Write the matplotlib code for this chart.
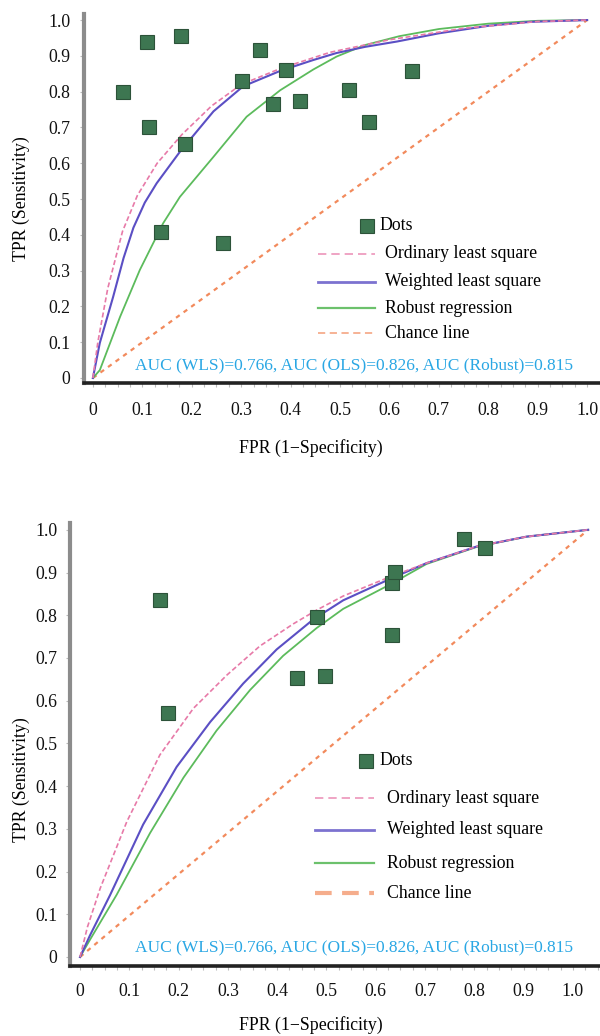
import numpy as np
import matplotlib
matplotlib.use("Agg")
import matplotlib.pyplot as plt
from matplotlib.ticker import MultipleLocator, FuncFormatter

plt.rcParams['font.family'] = ['Liberation Serif', 'DejaVu Serif']

# ---- data, upper panel ----
top_dots_fpr = [0.060, 0.109, 0.178, 0.114, 0.187, 0.137, 0.264, 0.301,
                0.338, 0.390, 0.365, 0.419, 0.518, 0.559, 0.645]
top_dots_tpr = [0.80, 0.94, 0.955, 0.70, 0.655, 0.407, 0.376, 0.83,
                0.916, 0.86, 0.765, 0.774, 0.804, 0.716, 0.857]

top_ols_fpr = [0, 0.01, 0.03, 0.06, 0.09, 0.13, 0.18, 0.24, 0.30, 0.38, 0.48, 0.60, 0.75, 0.90, 1.0]
top_ols_tpr = [0, 0.10, 0.25, 0.41, 0.51, 0.60, 0.68, 0.76, 0.82, 0.865, 0.91, 0.945, 0.977, 0.996, 1.0]

top_wls_fpr = [0, 0.014, 0.041, 0.062, 0.082, 0.105, 0.129, 0.176, 0.244, 0.304, 0.379, 0.445,
               0.493, 0.55, 0.615, 0.70, 0.80, 0.885, 1.0]
top_wls_tpr = [0, 0.098, 0.227, 0.335, 0.42, 0.49, 0.544, 0.632, 0.745, 0.815, 0.858, 0.888,
               0.908, 0.925, 0.94, 0.963, 0.984, 0.995, 1.0]

top_rob_fpr = [0, 0.014, 0.055, 0.095, 0.142, 0.176, 0.244, 0.311, 0.379, 0.446,
               0.493, 0.55, 0.62, 0.70, 0.80, 0.90, 1.0]
top_rob_tpr = [0, 0.022, 0.171, 0.302, 0.432, 0.506, 0.618, 0.73, 0.804, 0.862,
               0.898, 0.93, 0.955, 0.975, 0.99, 0.998, 1.0]

top_chance_fpr = [0, 1.0]
top_chance_tpr = [0, 1.0]

# ---- data, lower panel ----
bot_dots_fpr = [0.162, 0.179, 0.44, 0.497, 0.48, 0.632, 0.632, 0.639, 0.779, 0.822]
bot_dots_tpr = [0.836, 0.571, 0.654, 0.658, 0.797, 0.754, 0.875, 0.902, 0.979, 0.957]

bot_ols_fpr = [0, 0.015, 0.041, 0.095, 0.162, 0.23, 0.298, 0.365, 0.433, 0.48,
               0.534, 0.629, 0.703, 0.805, 0.906, 1.031]
bot_ols_tpr = [0, 0.07, 0.161, 0.317, 0.473, 0.582, 0.66, 0.728, 0.78, 0.812,
               0.845, 0.89, 0.922, 0.961, 0.984, 1.0]

bot_wls_fpr = [0, 0.02, 0.061, 0.128, 0.196, 0.264, 0.331, 0.399, 0.473,
               0.534, 0.629, 0.703, 0.805, 0.906, 1.031]
bot_wls_tpr = [0, 0.05, 0.145, 0.31, 0.445, 0.55, 0.64, 0.72, 0.79,
               0.835, 0.885, 0.922, 0.961, 0.984, 1.0]

bot_rob_fpr = [0, 0.02, 0.074, 0.142, 0.21, 0.277, 0.345, 0.412, 0.48,
               0.534, 0.629, 0.703, 0.805, 0.906, 1.031]
bot_rob_tpr = [0, 0.04, 0.145, 0.29, 0.42, 0.53, 0.625, 0.705, 0.77,
               0.815, 0.872, 0.92, 0.96, 0.984, 1.0]

bot_chance_fpr = [0, 1.031]
bot_chance_tpr = [0, 1.0]

ticks = np.round(np.arange(0, 1.01, 0.1), 1)
auc_text = "AUC (WLS)=0.766, AUC (OLS)=0.826, AUC (Robust)=0.815"
legend_names = ["Ordinary least square", "Weighted least square", "Robust regression", "Chance line"]

PINK = '#e77aa8'
BLUE = '#5b4fc4'
GREEN = '#5cbb5c'
ORANGE = '#f28a5c'
DOT = '#3d7651'
DOT_EDGE = '#2c5239'
AUC_COL = '#2aa7e4'
FS = 12.8


def style_axes(ax, xlim, ylim, ypad, xpad):
    ax.set_xlim(*xlim)
    ax.set_ylim(*ylim)
    for s in ['top', 'right']:
        ax.spines[s].set_visible(False)
    ax.spines['left'].set_color('#8c8c8c')
    ax.spines['left'].set_linewidth(3)
    ax.spines['bottom'].set_color('#222222')
    ax.spines['bottom'].set_linewidth(2.6)
    ax.set_xticks(ticks)
    ax.set_yticks(ticks)
    ax.xaxis.set_minor_locator(MultipleLocator(0.025))
    fmt = FuncFormatter(lambda v, p: '0' if abs(v) < 1e-9 else f'{v:.1f}')
    ax.xaxis.set_major_formatter(fmt)
    ax.yaxis.set_major_formatter(fmt)
    ax.tick_params(axis='both', which='both', colors='#bbbbbb', labelcolor='#111111',
                   labelsize=FS, length=3, width=0.8)
    ax.tick_params(axis='y', pad=ypad)
    ax.tick_params(axis='x', pad=xpad)


def draw_legend(ax, dot_xy, text_dx, x0, x1, xt, ys, chance_lw):
    tr = ax.transAxes
    ax.plot([dot_xy[0]], [dot_xy[1]], 's', ms=9.5, color=DOT, mec=DOT_EDGE,
            mew=0.8, transform=tr, clip_on=False)
    ax.text(dot_xy[0] + text_dx, dot_xy[1], "Dots", transform=tr,
            ha='left', va='center', fontsize=FS)
    styles = [dict(color=PINK, lw=1.2, ls=(0, (5, 3)), alpha=0.8),
              dict(color=BLUE, lw=2.0, ls='-', alpha=0.8),
              dict(color=GREEN, lw=1.6, ls='-', alpha=0.9),
              dict(color=ORANGE, lw=chance_lw, ls=(0, (4, 2.5)), alpha=0.7)]
    for name, y, st in zip(legend_names, ys, styles):
        ax.plot([x0, x1], [y, y], transform=tr, clip_on=False, **st)
        ax.text(xt, y, name, transform=tr, ha='left', va='center', fontsize=FS)


def draw_panel(ax, dots, ols, wls, rob, chance):
    ax.plot(chance[0], chance[1], color=ORANGE, lw=1.6, ls=(0, (2, 2.2)), zorder=2)
    ax.plot(rob[0], rob[1], color=GREEN, lw=1.3, zorder=3)
    ax.plot(wls[0], wls[1], color=BLUE, lw=1.5, zorder=4)
    ax.plot(ols[0], ols[1], color=PINK, lw=1.2, ls=(0, (3, 1.6)), zorder=4)
    ax.plot(dots[0], dots[1], 's', ms=9.5, color=DOT, mec=DOT_EDGE, mew=0.8,
            ls='none', zorder=5)


fig = plt.figure(figsize=(6.0, 10.36), dpi=100)

# upper panel
ax1 = fig.add_axes([0.14, 0.6303, 0.86, 0.3562])
draw_panel(ax1, (top_dots_fpr, top_dots_tpr), (top_ols_fpr, top_ols_tpr),
           (top_wls_fpr, top_wls_tpr), (top_rob_fpr, top_rob_tpr),
           (top_chance_fpr, top_chance_tpr))
style_axes(ax1, (-0.018, 1.026), (-0.014, 1.017), ypad=7, xpad=10.5)
draw_legend(ax1, (0.548, 0.4255), 0.024, 0.4535, 0.564, 0.583,
            [0.35, 0.274, 0.203, 0.1355], chance_lw=1.3)
ax1.text(0.0988, 0.049, auc_text, transform=ax1.transAxes, color=AUC_COL,
         fontsize=12.5, ha='left', va='center')
ax1.set_ylabel("TPR (Sensitivity)", fontsize=FS)
ax1.yaxis.set_label_coords(-0.105, 0.5)
ax1.set_xlabel("FPR (1\u2212Specificity)", fontsize=FS)
ax1.xaxis.set_label_coords(0.44, -0.152)

# lower panel
ax2 = fig.add_axes([0.1167, 0.0676, 0.8833, 0.4276])
draw_panel(ax2, (bot_dots_fpr, bot_dots_tpr), (bot_ols_fpr, bot_ols_tpr),
           (bot_wls_fpr, bot_wls_tpr), (bot_rob_fpr, bot_rob_tpr),
           (bot_chance_fpr, bot_chance_tpr))
style_axes(ax2, (-0.0203, 1.055), (-0.021, 1.016), ypad=6, xpad=9)
draw_legend(ax2, (0.5585, 0.4634), 0.0245, 0.462, 0.5736, 0.598,
            [0.3786, 0.307, 0.2318, 0.164], chance_lw=3.0)
ax2.text(0.1226, 0.0429, auc_text, transform=ax2.transAxes, color=AUC_COL,
         fontsize=12.5, ha='left', va='center')
ax2.set_ylabel("TPR (Sensitivity)", fontsize=FS)
ax2.yaxis.set_label_coords(-0.0755, 0.42)
ax2.set_xlabel("FPR (1\u2212Specificity)", fontsize=FS)
ax2.xaxis.set_label_coords(0.455, -0.113)

fig.savefig("out.png", dpi=100)
